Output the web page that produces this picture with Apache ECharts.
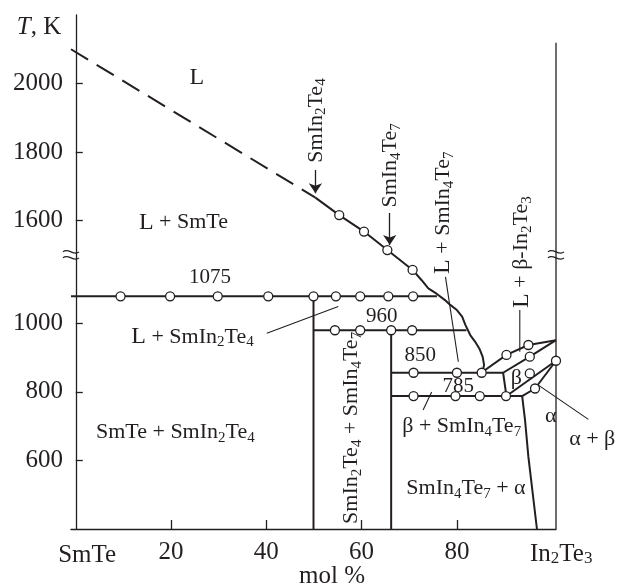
<!DOCTYPE html>
<html>
<head>
<meta charset="utf-8">
<script src="https://cdn.jsdelivr.net/npm/echarts@6/dist/echarts.min.js"></script>
<style>
  html, body { margin: 0; padding: 0; background: #fff; }
  #main { width: 617px; height: 588px; }
</style>
</head>
<body>
<div id="main"></div>
<script>
// x = mol % In2Te3, y = temperature in K (real values)
var xTicks = [20, 40, 60, 80];
var yTicks = [600, 800, 1000, 1600, 1800, 2000];

var liquidusDashed = [[-1, 2100], [50.3, 1667]];
var liquidusSolid = [[50.3, 1667], [55.3, 1616], [60.5, 1568], [65.4, 1514], [70.7, 1156], [72.6, 1126],
  [74.0, 1102], [75.8, 1086], [77.5, 1068], [78.6, 1054], [80.0, 1039], [81.1, 1020], [81.8, 995],
  [82.8, 966], [83.8, 947], [84.7, 927], [85.4, 903], [85.7, 879], [85.4, 859]];
var line1075 = [[-1, 1079], [75.8, 1079]];
var line960 = [[49.9, 980], [82.0, 980]];
var line850 = [[66.2, 856], [89.7, 856]];
var line785 = [[66.2, 788], [93.7, 788]];
var smIn2Te4Line = [[49.9, 1079], [49.9, 400]];
var smIn4Te7Line = [[66.2, 980], [66.2, 400]];
var in2Te3Liquidus = [[85.4, 859], [90.4, 908], [95.0, 937], [100.8, 951]];
var betaSolidus = [[89.7, 856], [95.3, 903], [100.8, 951]];
var betaLeft = [[89.7, 856], [90.4, 788]];
var betaSolvus = [[90.4, 788], [100.8, 891]];
var alphaSolidus = [[93.7, 788], [96.4, 810], [100.8, 891]];
var alphaSolvus = [[93.7, 788], [94.3, 718], [95.0, 611], [96.8, 400]];
var in2Te3Edge = [[100.8, 400], [100.8, 2119]];

var points = [
  [55.3, 1616], [60.5, 1568], [65.4, 1514], [70.7, 1156],
  [9.4, 1079], [19.8, 1079], [29.8, 1079], [40.4, 1079], [49.9, 1079], [54.6, 1079], [59.7, 1079], [65.6, 1079], [70.8, 1079],
  [54.4, 980], [59.7, 980], [66.2, 980], [70.6, 980],
  [70.9, 856], [80.0, 856], [85.2, 856],
  [70.9, 788], [79.7, 788], [84.8, 788], [90.3, 788],
  [90.4, 908], [95.0, 937], [95.3, 903], [100.8, 891], [95.3, 854], [96.4, 810]
];

// leader lines from region labels
var pointers = [
  [[40.1, 971], [55.1, 1049]],
  [[72.9, 747], [74.7, 800]],
  [[77.6, 1136], [80.3, 888]],
  [[93.2, 1039], [93.2, 917]]
];
var pointerOutside = [[97.1, 820], [107.6, 720]]; // alpha + beta, runs past the right edge
var arrows = [
  [[50.3, 1748], [50.3, 1680]],
  [[65.9, 1622], [65.9, 1529]]
];

// the T axis is cut between 1200 and 1500 K
var BREAK_LOW = 1200, BREAK_HIGH = 1500;
function ty(t) { return t >= BREAK_HIGH ? t - (BREAK_HIGH - BREAK_LOW) : t; }
function pts(arr) { return arr.map(function (p) { return [p[0], ty(p[1])]; }); }

var INK = '#231f20';
var SERIF = '"Liberation Serif", "Times New Roman", serif';

function seg(arr, width, extra) {
  return Object.assign({
    type: 'line', data: pts(arr), symbol: 'none', silent: true, clip: false, z: 3,
    lineStyle: { color: INK, width: width }
  }, extra || {});
}

var series = [
  seg(liquidusDashed, 2, { lineStyle: { color: INK, width: 2, type: [20, 10] } }),
  seg(liquidusSolid, 2),
  seg(line1075, 2), seg(line960, 2), seg(line850, 2), seg(line785, 2),
  seg(smIn2Te4Line, 2), seg(smIn4Te7Line, 2),
  seg(in2Te3Liquidus, 2), seg(betaSolidus, 2), seg(betaLeft, 2),
  seg(betaSolvus, 2), seg(alphaSolidus, 2), seg(alphaSolvus, 2),
  seg(in2Te3Edge, 1.3)
];
pointers.forEach(function (p) { series.push(seg(p, 1.1)); });
series.push({
  type: 'lines', coordinateSystem: 'cartesian2d', silent: true, z: 4,
  symbol: ['none', 'arrow'], symbolSize: 10,
  lineStyle: { color: INK, width: 1.3, opacity: 1 },
  data: arrows.map(function (a) { return { coords: pts(a) }; })
});
series.push({
  type: 'scatter', data: pts(points), symbol: 'circle', symbolSize: 9, silent: true, z: 5,
  itemStyle: { color: '#fff', borderColor: INK, borderWidth: 1.3, opacity: 1 }
});

var chart = echarts.init(document.getElementById('main'));
chart.setOption({
  animation: false,
  grid: { left: 71, top: 15, width: 485, height: 514, containLabel: false, outerBoundsMode: 'none' },
  xAxis: {
    type: 'value', min: -1, max: 100.8,
    axisLine: { show: true, lineStyle: { color: INK, width: 1.3 } },
    axisTick: { show: true, inside: true, length: 9, customValues: xTicks, lineStyle: { color: INK, width: 1.3 } },
    axisLabel: { customValues: xTicks, margin: 11, color: INK, fontFamily: SERIF, fontSize: 25 },
    splitLine: { show: false }
  },
  yAxis: {
    type: 'value', min: 400, max: 1900,
    axisLine: { show: true, lineStyle: { color: INK, width: 1.3 } },
    axisTick: { show: true, inside: true, length: 7, customValues: yTicks.map(ty), lineStyle: { color: INK, width: 1.3 } },
    axisLabel: {
      customValues: yTicks.map(ty), margin: 8, color: INK, fontFamily: SERIF, fontSize: 25,
      formatter: function (v) { return String(v > BREAK_LOW ? v + (BREAK_HIGH - BREAK_LOW) : v); }
    },
    splitLine: { show: false }
  },
  series: series
});

function toPx(p) { return chart.convertToPixel({ gridIndex: 0 }, p); }

// text placed at axis positions (x, displayed T)
var rich = {
  L: { fontSize: 24, fontFamily: SERIF, color: INK, lineHeight: 26 },
  s: { fontSize: 15, fontFamily: SERIF, color: INK, lineHeight: 12, verticalAlign: 'bottom' },
  i: { fontSize: 25, fontFamily: SERIF, color: INK, fontStyle: 'italic', lineHeight: 26 },
  S: { fontSize: 17, fontFamily: SERIF, color: INK, lineHeight: 13, verticalAlign: 'bottom' }
};
var texts = [
  { t: '{L|L}', at: [25.4, 1716] },
  { t: '{L|L} + SmTe', at: [22.6, 1294] },
  { t: '1075', at: [28.2, 1135], size: 21 },
  { t: '{L|L} + SmIn{s|2}Te{s|4}', at: [24.5, 961] },
  { t: 'SmTe + SmIn{s|2}Te{s|4}', at: [20.9, 681] },
  { t: '960', at: [64.2, 1021], size: 21 },
  { t: '850', at: [72.3, 905], size: 21 },
  { t: '785', at: [80.3, 817], size: 21 },
  { t: 'β + SmIn{s|4}Te{s|7}', at: [81.0, 699] },
  { t: 'SmIn{s|4}Te{s|7} + α', at: [81.9, 518] },
  { t: 'SmIn{s|2}Te{s|4} + SmIn{s|4}Te{s|7}', at: [57.9, 695], rot: true },
  { t: '{L|L} + SmIn{s|4}Te{s|7}', at: [77.1, 1323], rot: true },
  { t: '{L|L} + β-In{s|2}Te{s|3}', at: [93.6, 1208], rot: true },
  { t: 'SmIn{s|2}Te{s|4}', at: [50.4, 1592], rot: true },
  { t: 'SmIn{s|4}Te{s|7}', at: [66.0, 1461], rot: true },
  { t: 'β', at: [92.5, 840] },
  { t: 'α', at: [99.7, 728] },
  { t: 'α + β', at: [108.4, 663] },
  { t: 'SmTe', at: [2.4, 324], size: 25 },
  { t: 'In{S|2}Te{S|3}', at: [101.9, 326], size: 25 },
  { t: 'mol %', at: [53.8, 263], size: 25 },
  { t: '{i|T}, K', at: [-7.7, 1863], size: 25 }
];

var graphic = texts.map(function (l) {
  var p = toPx(l.at);
  return {
    type: 'text', x: p[0], y: p[1], rotation: l.rot ? Math.PI / 2 : 0, z: 10, silent: true,
    style: {
      text: l.t, fill: INK, fontFamily: SERIF, fontSize: l.size || 22, lineHeight: 26,
      align: 'center', verticalAlign: 'middle', textAlign: 'center', textVerticalAlign: 'middle',
      rich: rich
    }
  };
});

// leader line that leaves the plot area
var a = toPx(pts(pointerOutside)[0]), b = toPx(pts(pointerOutside)[1]);
graphic.push({
  type: 'line', z: 6, silent: true,
  shape: { x1: a[0], y1: a[1], x2: b[0], y2: b[1] },
  style: { stroke: INK, lineWidth: 1.1 }
});

// break marks on both vertical boundaries
[[-1, BREAK_LOW], [100.8, BREAK_LOW]].forEach(function (bk) {
  var p = toPx(bk);
  var kids = [{ type: 'rect', shape: { x: -3, y: -2.5, width: 6, height: 5 }, style: { fill: '#fff' } }];
  [-3, 3].forEach(function (dy) {
    kids.push({
      type: 'bezierCurve',
      shape: { x1: -8, y1: dy, cpx1: -3, cpy1: dy - 5, cpx2: 3, cpy2: dy + 5, x2: 8, y2: dy },
      style: { stroke: INK, lineWidth: 1.2, fill: null }
    });
  });
  graphic.push({ type: 'group', x: p[0], y: p[1], z: 20, silent: true, children: kids });
});

chart.setOption({ graphic: graphic });
</script>
</body>
</html>
